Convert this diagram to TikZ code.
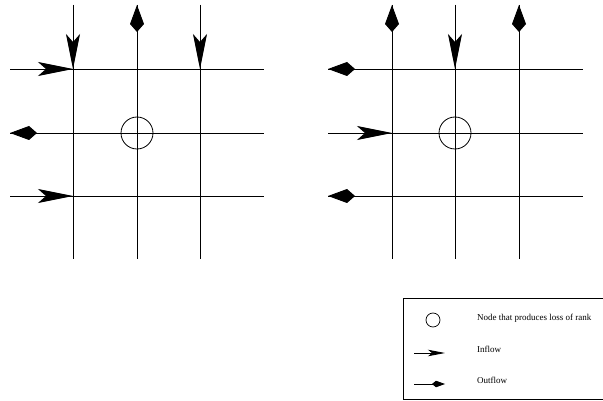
\documentclass[tikz,border=0pt]{standalone}
\usepackage{fontspec}
\setmainfont{Liberation Serif}
\usetikzlibrary{arrows.meta}
\tikzset{
  gridline/.style={line width=0.9pt},
  inflow/.style={line width=0.9pt,-{Stealth[length=35pt,width=14pt,inset=8pt]}},
  outflow/.style={line width=0.9pt,-{Kite[length=27pt,width=14pt,inset=8pt]}},
  inflowsmall/.style={line width=0.8pt,-{Stealth[length=17pt,width=6.5pt,inset=4pt]}},
  outflowsmall/.style={line width=0.8pt,-{Kite[length=13pt,width=6.5pt,inset=4pt]}},
  lossnode/.style={circle,draw,line width=0.8pt,minimum size=32pt,inner sep=0pt},
  legendtext/.style={anchor=west,inner sep=0pt,font=\fontsize{9}{10}\selectfont}
}
\begin{document}
\begin{tikzpicture}[x=1pt,y=-1pt]
\useasboundingbox (0,0) rectangle (603,401);
\clip (0,0) rectangle (603,401);
% ---------- left grid ----------
\foreach \name/\x in {a/73,b/137,c/200}{
  \coordinate (L\name top) at (\x,5);
  \coordinate (L\name bot) at (\x,259);
}
\foreach \name/\y in {1/69,2/133,3/196}{
  \coordinate (L\name left) at (10,\y);
  \coordinate (L\name right) at (264,\y);
}
\coordinate (La1) at (73,69);  \coordinate (Lb1) at (137,69);  \coordinate (Lc1) at (200,69);
\coordinate (La2) at (73,133); \coordinate (La3) at (73,196);
\foreach \n in {a,b,c}{\draw[gridline] (L\n top) -- (L\n bot);}
\foreach \n in {1,2,3}{\draw[gridline] (L\n left) -- (L\n right);}
\node[lossnode] (Lloss) at (137,133) {};
\draw[inflow] (Latop) -- (La1);
\draw[outflow] (Lb1) -- (Lbtop);
\draw[inflow] (Lctop) -- (Lc1);
\draw[inflow] (L1left) -- (La1);
\draw[outflow] (La2) -- (L2left);
\draw[inflow] (L3left) -- (La3);
% ---------- right grid ----------
\foreach \name/\x in {a/392,b/455,c/519}{
  \coordinate (R\name top) at (\x,5);
  \coordinate (R\name bot) at (\x,259);
}
\foreach \name/\y in {1/69,2/133,3/196}{
  \coordinate (R\name left) at (328,\y);
  \coordinate (R\name right) at (583,\y);
}
\coordinate (Ra1) at (392,69);  \coordinate (Rb1) at (455,69);  \coordinate (Rc1) at (519,69);
\coordinate (Ra2) at (392,133); \coordinate (Ra3) at (392,196);
\foreach \n in {a,b,c}{\draw[gridline] (R\n top) -- (R\n bot);}
\foreach \n in {1,2,3}{\draw[gridline] (R\n left) -- (R\n right);}
\node[lossnode] (Rloss) at (455,133) {};
\draw[outflow] (Ra1) -- (Ratop);
\draw[inflow] (Rbtop) -- (Rb1);
\draw[outflow] (Rc1) -- (Rctop);
\draw[outflow] (Ra1) -- (R1left);
\draw[inflow] (R2left) -- (Ra2);
\draw[outflow] (Ra3) -- (R3left);
% ---------- legend ----------
\draw[line width=0.9pt] (606,298) -- (403,298) -- (403,399) -- (606,399);
\node[circle,draw,line width=0.7pt,minimum size=14pt,inner sep=0pt] (legloss) at (433,320) {};
\coordinate (inA) at (414,353); \coordinate (inB) at (445,353);
\coordinate (outA) at (414,384); \coordinate (outB) at (445,384);
\draw[inflowsmall] (inA) -- (inB);
\draw[outflowsmall] (outA) -- (outB);
\node[legendtext] (t1) at (477,318) {Node that produces loss of rank};
\node[legendtext] (t2) at (477,349) {Inflow};
\node[legendtext] (t3) at (477,380) {Outflow};
\end{tikzpicture}
\end{document}
